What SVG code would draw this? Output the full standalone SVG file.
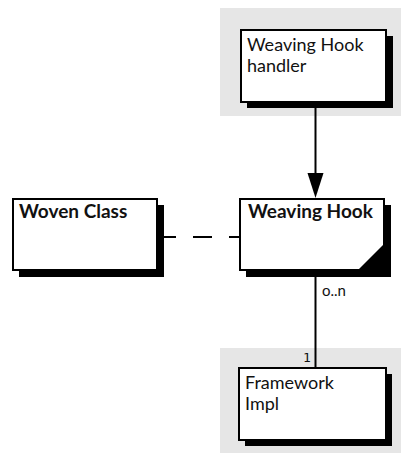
<svg xmlns="http://www.w3.org/2000/svg" width="401" height="453" viewBox="0 0 401 453">
<style>
.panel{fill:#e6e6e6}
.box{fill:#fff;stroke:#000;stroke-width:2}
.shadow{fill:#000}
.t{font-family:Lato,"Open Sans",sans-serif;font-size:18px;fill:#111}
.b{font-weight:bold;font-size:19px}
.lbl{font-family:Lato,"Open Sans",sans-serif;font-size:15px;fill:#111}
.one{font-family:"DejaVu Sans Mono",monospace;font-size:13px;fill:#111}
.ln{stroke:#000;stroke-width:2;fill:none}
</style>
<rect class="panel" x="220" y="8" width="181" height="108"/>
<rect class="panel" x="220" y="348" width="181" height="105"/>
<g id="connectors">
<line class="ln" x1="315.5" y1="102" x2="315.5" y2="173"/>
<path d="M307.5,173 L323.5,173 L315.5,198 Z" fill="#000"/>
<line class="ln" x1="157" y1="237" x2="240" y2="237" stroke-dasharray="19 17"/>
<line class="ln" x1="315.5" y1="270" x2="315.5" y2="368"/>
<text class="lbl" x="322" y="296">o..n</text>
<text class="one" x="303" y="362">1</text>
</g>
<g id="weaving-hook-handler">
<rect class="shadow" x="247" y="36" width="146" height="72"/>
<rect class="box" x="241" y="30" width="145" height="72"/>
<text class="t" x="247" y="51">Weaving Hook</text>
<text class="t" x="247" y="72">handler</text>
</g>
<g id="woven-class">
<rect class="shadow" x="19" y="205" width="145" height="72"/>
<rect class="box" x="13" y="199" width="144" height="71"/>
<text class="t b" x="19" y="218">Woven Class</text>
</g>
<g id="weaving-hook">
<rect class="shadow" x="246" y="205" width="145" height="72"/>
<rect class="box" x="240" y="199" width="144" height="71"/>
<path d="M358,270 L384,244 L384,270 Z" fill="#000"/>
<text class="t b" x="248" y="218">Weaving Hook</text>
</g>
<g id="framework-impl">
<rect class="shadow" x="245" y="374" width="147" height="72"/>
<rect class="box" x="239" y="368" width="147" height="72"/>
<text class="t" x="245" y="389">Framework</text>
<text class="t" x="245" y="410">Impl</text>
</g>
</svg>
